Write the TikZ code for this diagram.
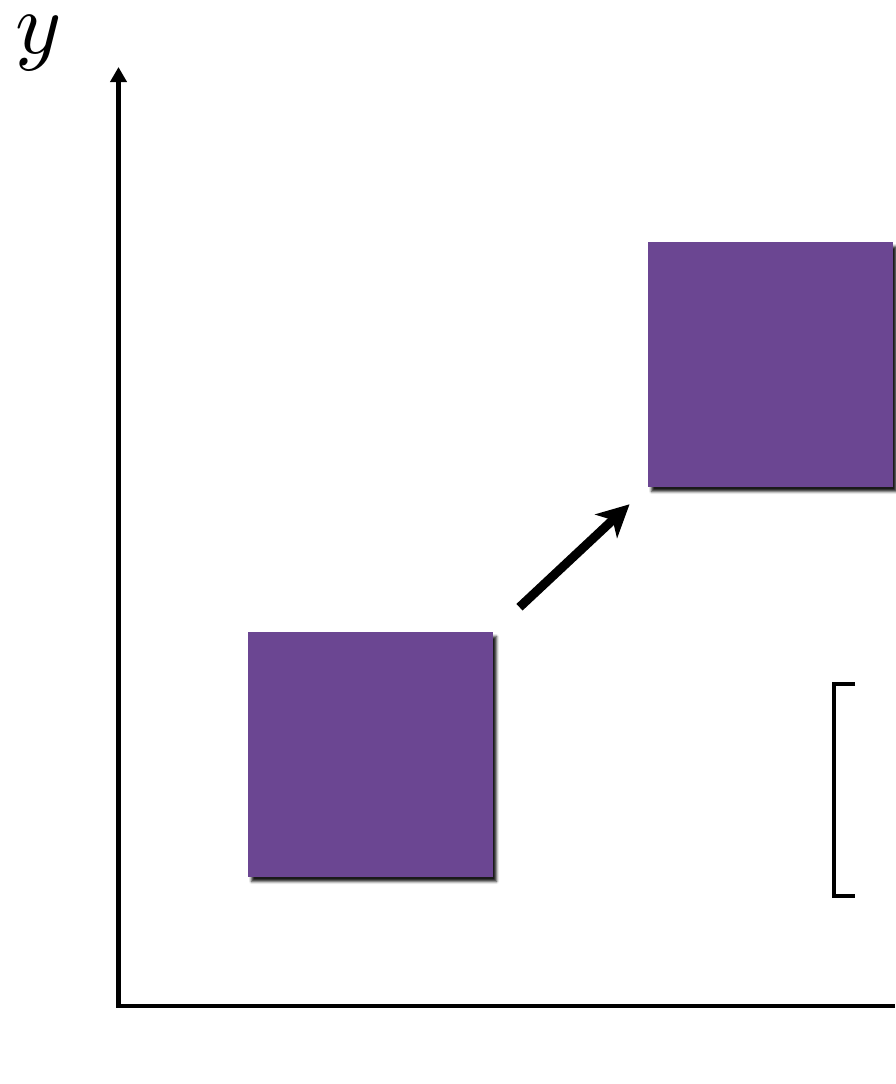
\documentclass[tikz,border=0pt]{standalone}
\usetikzlibrary{arrows.meta,shadows.blur}
\definecolor{cardpurple}{RGB}{107,70,146}
\begin{document}
\begin{tikzpicture}[x=1pt,y=-1pt,
        card/.style={rectangle, fill=cardpurple, minimum size=245pt, inner sep=0pt,
            blur shadow={shadow xshift=3.5pt, shadow yshift=-4.5pt, shadow blur radius=2.5pt, shadow opacity=90}}]
        \useasboundingbox (0,0) rectangle (895,1084);
        \node [inner sep=0pt, anchor=base] (ylab) at (38.5,53) {\scalebox{8.8}{$y$}};
        \coordinate (o) at (118.5,1006);
        \coordinate (ytip) at (118.5,67);
        \coordinate (xend) at (895,1006);
        \draw [line width=4.5pt, -{Triangle[length=15pt,width=16pt]}] (xend) -- (o) -- (ytip);
        \node [card] (sq1) at (370.5,754.5) {};
        \node [card] (sq2) at (770.5,364.5) {};
        \draw [line width=9pt, -{Stealth[length=32pt,width=32pt,inset=9pt]}, shorten <=36pt, shorten >=25pt] (sq1.north east) -- (sq2.south west);
        \draw [line width=4.5pt] (855,684) -- (834,684) -- (834,896) -- (855,896);
    \end{tikzpicture}
\end{document}
